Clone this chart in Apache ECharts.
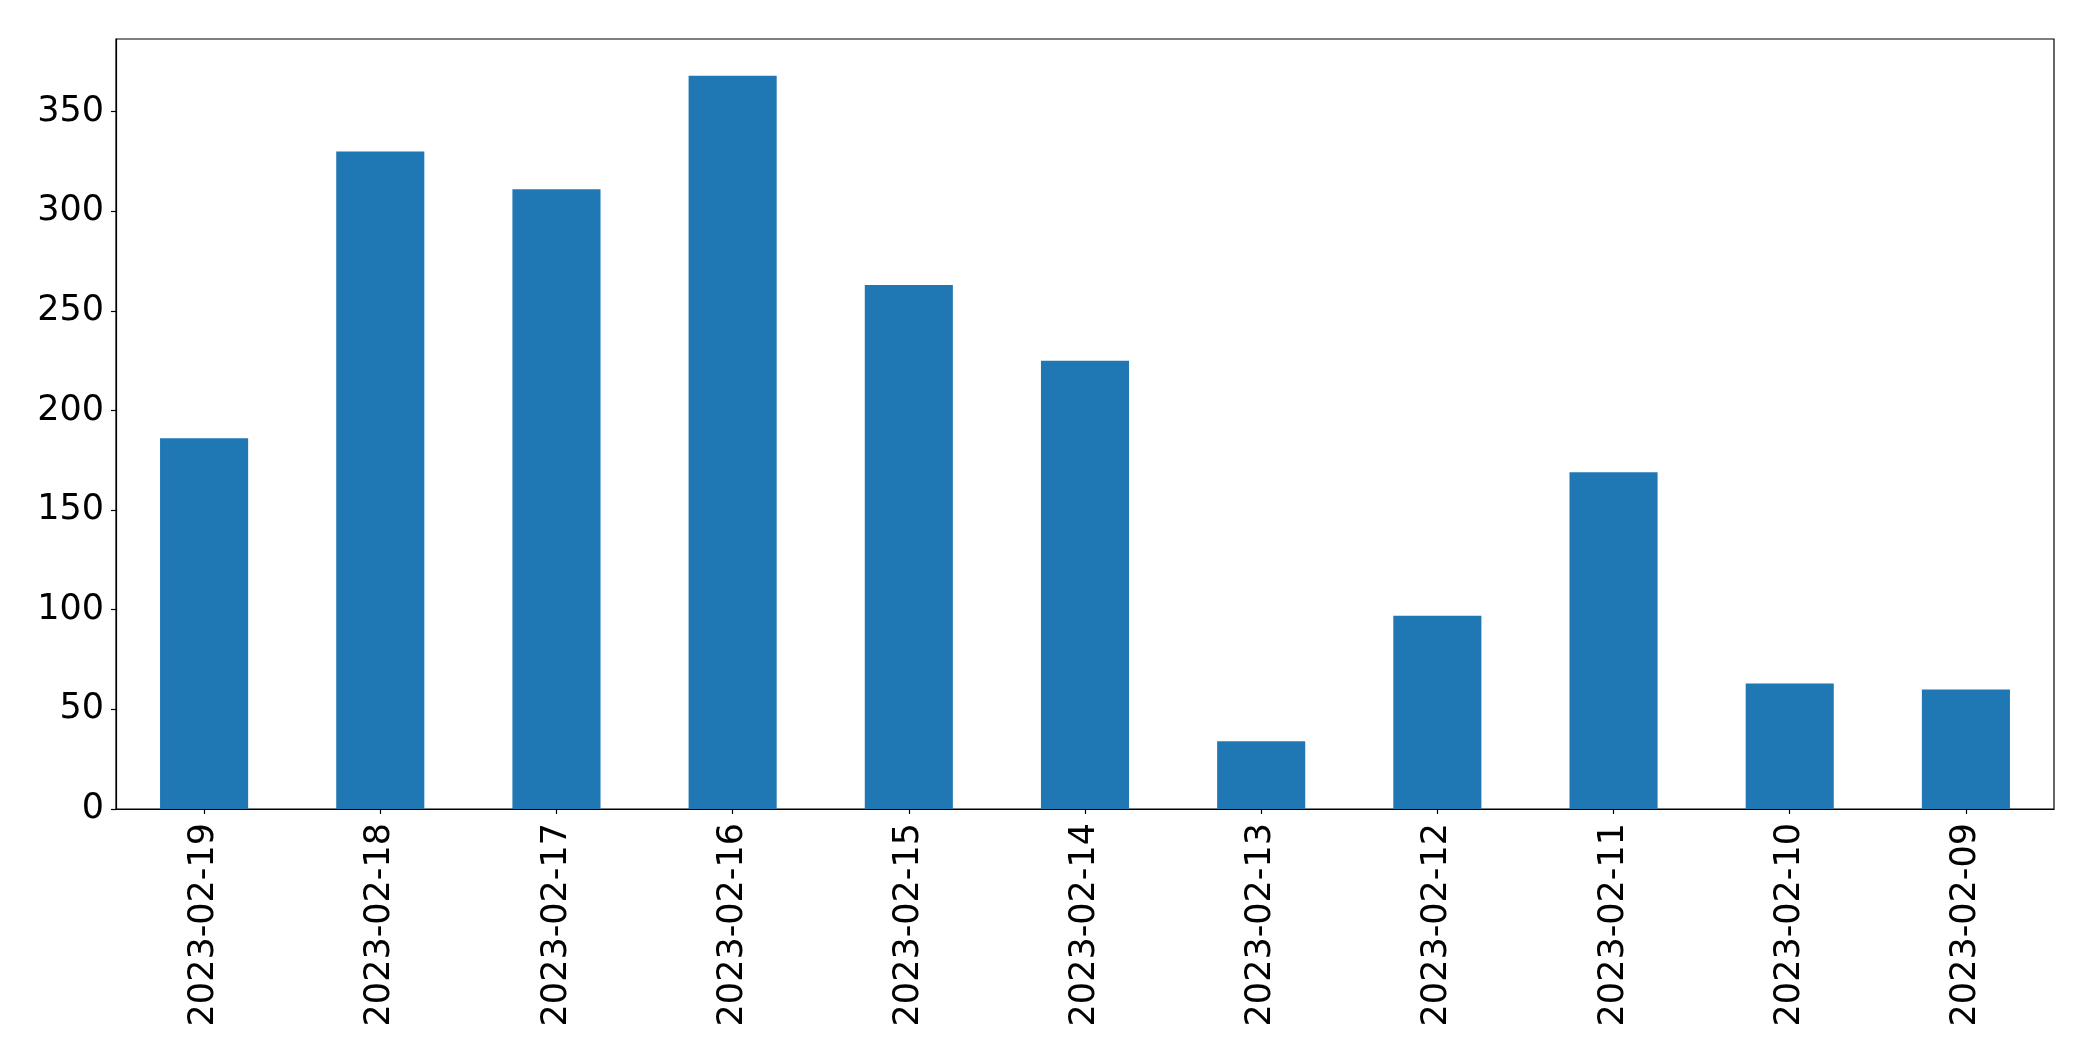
<!DOCTYPE html>
<html>
<head>
<meta charset="utf-8">
<script src="https://cdn.jsdelivr.net/npm/echarts@6/dist/echarts.min.js"></script>
<style>
html,body{margin:0;padding:0;background:#fff;}
#chart{width:2093px;height:1061px;}
</style>
</head>
<body>
<div id="chart"></div>
<script>
var categories = ['2023-02-19','2023-02-18','2023-02-17','2023-02-16','2023-02-15','2023-02-14','2023-02-13','2023-02-12','2023-02-11','2023-02-10','2023-02-09'];
var values = [186, 330, 311, 368, 263, 225, 34, 97, 169, 63, 60];
var yTicks = [0, 50, 100, 150, 200, 250, 300, 350];

var chart = echarts.init(document.getElementById('chart'));
var font = 'DejaVu Sans';
chart.setOption({
  animation: false,
  backgroundColor: '#ffffff',
  grid: {left: 116, right: 39, top: 39, bottom: 252, show: true, borderColor: '#000', borderWidth: 1.2, backgroundColor: 'transparent'},
  xAxis: {
    type: 'category',
    data: categories,
    boundaryGap: true,
    axisLine: {show: true, lineStyle: {color: '#000', width: 1.2}},
    axisTick: {show: true, alignWithLabel: true, length: 5, lineStyle: {color: '#000', width: 1.2}},
    axisLabel: {rotate: 90, fontFamily: font, fontSize: 35, color: '#000', margin: 14, interval: 0}
  },
  yAxis: {
    type: 'value',
    min: 0,
    max: 386.4,
    interval: 50,
    splitLine: {show: false},
    axisLine: {show: true, lineStyle: {color: '#000', width: 1.2}},
    axisTick: {show: true, length: 5, customValues: yTicks, lineStyle: {color: '#000', width: 1.2}},
    axisLabel: {fontFamily: font, fontSize: 35, color: '#000', margin: 12, customValues: yTicks, padding: [8, 0, 0, 0]}
  },
  series: [{
    type: 'bar',
    data: values,
    barWidth: '50%',
    itemStyle: {color: '#1f77b4'}
  }]
});
</script>
</body>
</html>
